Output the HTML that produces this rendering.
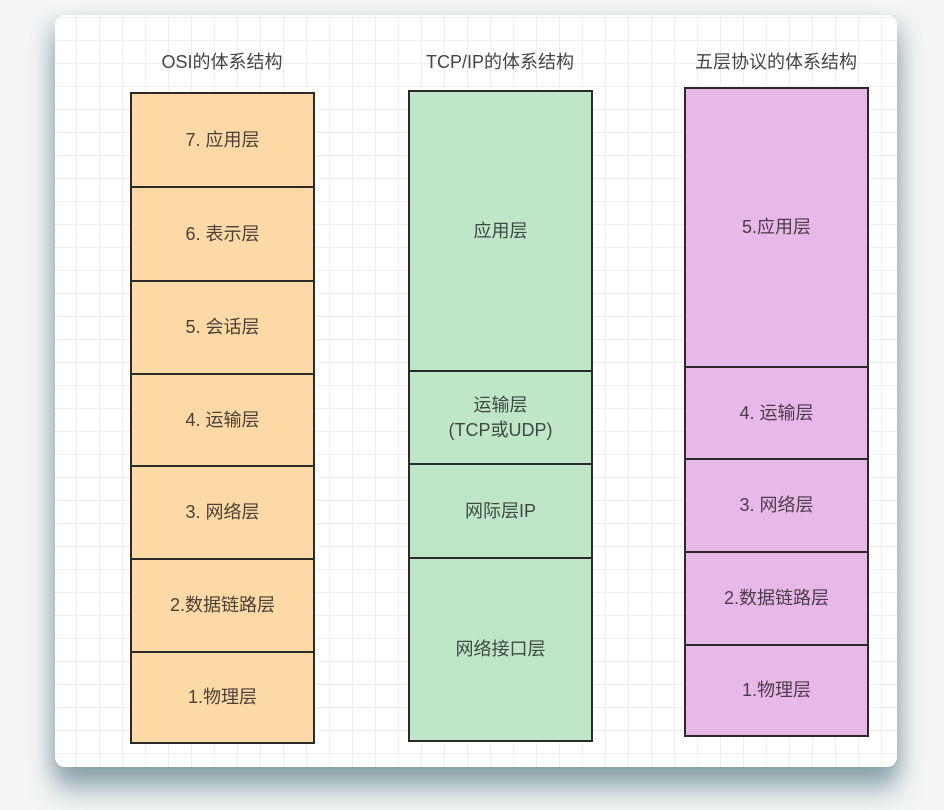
<!DOCTYPE html>
<html><head><meta charset="utf-8"><style>
body{margin:0;width:944px;height:810px;background:#f3f5f5;position:relative;overflow:hidden;font-family:"Liberation Sans","Noto Sans CJK SC",sans-serif}
.card{position:absolute;left:55px;top:15px;width:842px;height:752px;border-radius:10px;background-color:#fff;
background-image:linear-gradient(#eeeeee 1px,transparent 1px),linear-gradient(90deg,#eeeeee 1px,transparent 1px);background-size:23px 23px;background-position:-2px 2px;
box-shadow:0 24px 24px rgba(80,120,130,.5),-8px 6px 16px rgba(120,140,150,.25),8px 6px 16px rgba(120,140,150,.25)}
.b{position:absolute;box-sizing:border-box;border:2px solid #2a2a2a;display:flex;align-items:center;justify-content:center;text-align:center;font-size:18px;color:#4a4038;line-height:25px}
.o{background:#fdd9a6}.g{background:#bfe6c9;color:#3d4a40}.p{background:#e8b8e9;color:#4a3d4a}
.t{position:absolute;font-size:18px;color:#444;width:220px;text-align:center}
</style></head><body>
<div class="card"></div>
<div class="t" style="left:112px;top:48px">OSI的体系结构</div>
<div class="t" style="left:390px;top:48px">TCP/IP的体系结构</div>
<div class="t" style="left:666px;top:48px">五层协议的体系结构</div>

<div class="b o" style="left:130px;top:92px;width:185px;height:96px">7. 应用层</div>
<div class="b o" style="left:130px;top:186px;width:185px;height:96px">6. 表示层</div>
<div class="b o" style="left:130px;top:280px;width:185px;height:95px">5. 会话层</div>
<div class="b o" style="left:130px;top:373px;width:185px;height:94px">4. 运输层</div>
<div class="b o" style="left:130px;top:465px;width:185px;height:95px">3. 网络层</div>
<div class="b o" style="left:130px;top:558px;width:185px;height:95px">2.数据链路层</div>
<div class="b o" style="left:130px;top:651px;width:185px;height:93px">1.物理层</div>

<div class="b g" style="left:408px;top:90px;width:185px;height:282px">应用层</div>
<div class="b g" style="left:408px;top:370px;width:185px;height:95px">运输层<br>(TCP或UDP)</div>
<div class="b g" style="left:408px;top:463px;width:185px;height:96px">网际层IP</div>
<div class="b g" style="left:408px;top:557px;width:185px;height:185px">网络接口层</div>

<div class="b p" style="left:684px;top:87px;width:185px;height:281px">5.应用层</div>
<div class="b p" style="left:684px;top:366px;width:185px;height:94px">4. 运输层</div>
<div class="b p" style="left:684px;top:458px;width:185px;height:95px">3. 网络层</div>
<div class="b p" style="left:684px;top:551px;width:185px;height:95px">2.数据链路层</div>
<div class="b p" style="left:684px;top:644px;width:185px;height:93px">1.物理层</div>
</body></html>
